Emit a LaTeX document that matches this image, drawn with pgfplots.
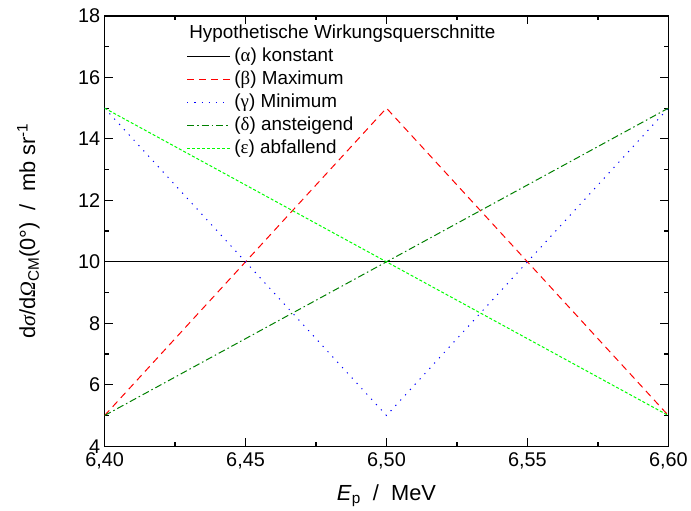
\documentclass[border=0pt]{standalone}
\usepackage{fontspec}
\setmainfont{Liberation Sans}
\newfontfamily\grk{Liberation Serif}
\usepackage{pgfplots}
\pgfplotsset{compat=1.18}
\tikzset{
  sa/.style={draw=black, line width=1bp},
  sb/.style={draw=red, line width=1bp, dash pattern=on 7bp off 5bp},
  sc/.style={draw=blue, line width=1bp, dash pattern=on 1.2bp off 6bp},
  sd/.style={draw=green!50!black, line width=1bp, dash pattern=on 7bp off 3bp on 1.5bp off 3bp},
  se/.style={draw=green, line width=1bp, dash pattern=on 3bp off 2bp},
  lt/.style={anchor=west, inner sep=0pt, font=\fontsize{19}{22}\selectfont},
}
\begin{document}
\begin{tikzpicture}
\begin{axis}[
  at={(0,0)}, anchor=south west,
  scale only axis, width=566bp, height=432bp,
  xmin=6.40, xmax=6.60, ymin=4, ymax=18,
  xtick={6.40,6.45,6.50,6.55,6.60},
  ytick={4,6,8,10,12,14,16,18},
  minor tick num=1,
  tick align=inside,
  major tick length=8bp, minor tick length=4.5bp,
  axis line style={line width=1.4bp},
  every tick/.style={line width=1.2bp, black},
  /pgf/number format/assume math mode=true,
  xticklabel style={/pgf/number format/fixed, /pgf/number format/fixed zerofill, /pgf/number format/precision=2, /pgf/number format/use comma, yshift=-3bp},
  ticklabel style={font=\fontsize{20}{24}\selectfont},
  yticklabel style={xshift=-1bp},
  xlabel={\textit{E}\textsubscript{p}\ \ /\ \ MeV},
  xlabel style={font=\fontsize{22}{26}\selectfont, at={(axis description cs:0.5,-0.125)}, anchor=base},
  ylabel={d{\grk\itshape σ}/d{\grk\itshape Ω}\textsubscript{CM}(0°)\ \ /\ \ mb sr\textsuperscript{-1}},
  ylabel style={font=\fontsize{22}{26}\selectfont, at={(axis description cs:-0.135,0.5)}, anchor=center},
]
% data
\addplot[sa] coordinates {(6.40,10) (6.60,10)};
\addplot[sb] coordinates {(6.40,5) (6.50,15) (6.60,5)};
\addplot[sc] coordinates {(6.40,15) (6.50,5) (6.60,15)};
\addplot[sd] coordinates {(6.40,5) (6.60,15)};
\addplot[se] coordinates {(6.40,15) (6.60,5)};
% legend samples
\addplot[sa, forget plot] coordinates {(6.4293,16.67) (6.4445,16.67)};
\addplot[sb, forget plot] coordinates {(6.4293,15.925) (6.4445,15.925)};
\addplot[sc, forget plot] coordinates {(6.4293,15.18) (6.4445,15.18)};
\addplot[sd, forget plot] coordinates {(6.4293,14.435) (6.4445,14.435)};
\addplot[se, forget plot] coordinates {(6.4293,13.69) (6.4445,13.69)};
\node[lt] at (axis cs:6.4300,17.42) {Hypothetische Wirkungsquerschnitte};
\node[lt] at (axis cs:6.4460,16.67) {({\grk α}) konstant};
\node[lt] at (axis cs:6.4460,15.925) {({\grk β}) Maximum};
\node[lt] at (axis cs:6.4460,15.18) {({\grk γ}) Minimum};
\node[lt] at (axis cs:6.4460,14.435) {({\grk δ}) ansteigend};
\node[lt] at (axis cs:6.4460,13.69) {({\grk ε}) abfallend};
\end{axis}
\path[use as bounding box] (-105bp,-65bp) rectangle (586bp,448bp);
\end{tikzpicture}
\end{document}
